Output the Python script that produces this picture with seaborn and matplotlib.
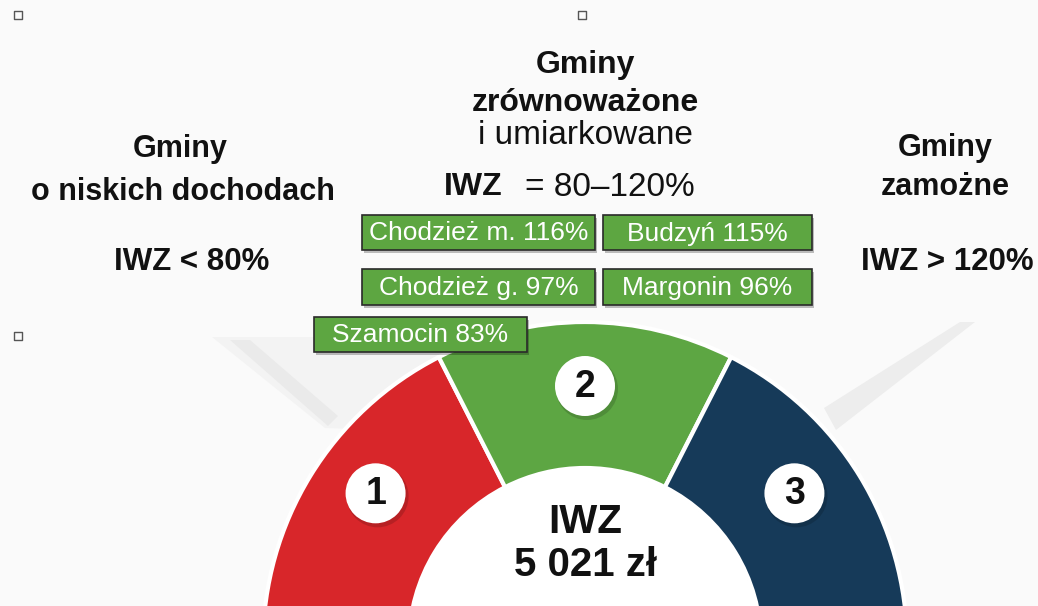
import numpy as np
import matplotlib.pyplot as plt
import seaborn as sns
from matplotlib.patches import Circle, Polygon, Rectangle

# Segmenty półkola (rozpiętość w stopniach, razem 180)
segmenty = ['1', '2', '3']
katy = [63, 54, 63]
kolory = ['#D8262A', '#5DA643', '#163A59']

# Gminy w grupie 2 i ich IWZ w %
gminy = ['Chodzież m.', 'Budzyń', 'Chodzież g.', 'Margonin', 'Szamocin']
iwz_gmin = [116, 115, 97, 96, 83]

iwz_srodek = '5 021 zł'

sns.set_theme(style='white')
plt.rcParams['font.family'] = ['Liberation Sans', 'DejaVu Sans']

tlo = '#FAFAFA'
fig = plt.figure(figsize=(10.38, 6.06), dpi=100)
fig.patch.set_facecolor(tlo)
ax = fig.add_axes([0, 0, 1, 1])
ax.set_facecolor(tlo)

# delikatne "promienie" w tle
ax.add_patch(Polygon([(212, 337), (445, 337), (445, 432), (325, 428)],
                     closed=True, facecolor='#F3F3F3', edgecolor='none', zorder=0))
ax.add_patch(Polygon([(230, 340), (250, 340), (338, 416), (328, 426)],
                     closed=True, facecolor='#EAEAEA', edgecolor='none', zorder=0))
ax.add_patch(Polygon([(836, 430), (824, 408), (960, 322), (975, 322)],
                     closed=True, facecolor='#EDEDED', edgecolor='none', zorder=0))

# półkole (donut) z pie
cx, cy, R, szer = 585, 644, 322, 146
wedges, _ = ax.pie(np.array(katy) / 360, colors=kolory, normalize=False,
                   startangle=180, counterclock=True, center=(cx, cy), radius=R,
                   wedgeprops=dict(width=szer, edgecolor='white', linewidth=3))
for w in wedges:
    w.set_zorder(2)
ax.add_patch(Circle((cx, cy), R - szer - 1, facecolor='white', edgecolor='none', zorder=2))

ax.set_xlim(0, 1038)
ax.set_ylim(606, 0)
ax.set_aspect('equal')
ax.axis('off')

# numery segmentów w białych kółkach
rl = 258
clip = np.degrees(np.arcsin((cy - 606) / rl))
for w, nr in zip(wedges, segmenty):
    lo, hi = 360 - w.theta2, 360 - w.theta1
    lo, hi = max(lo, clip), min(hi, 180 - clip)
    a = np.radians((lo + hi) / 2)
    x, y = cx + rl * np.cos(a), cy - rl * np.sin(a)
    ax.add_patch(Circle((x + 2, y + 3), 31, facecolor='black', alpha=0.15, edgecolor='none', zorder=3))
    ax.add_patch(Circle((x, y), 30, facecolor='white', edgecolor='none', zorder=4))
    ax.text(x, y + 1, nr, ha='center', va='center', fontsize=27, fontweight='bold', color='#111111', zorder=5)

# środek
ax.text(cx, 522, 'IWZ', ha='center', va='center', fontsize=29, fontweight='bold', color='#111111', zorder=5)
ax.text(cx, 565, iwz_srodek, ha='center', va='center', fontsize=29, fontweight='bold', color='#111111', zorder=5)

# zielone etykiety gmin
ramki = [(362, 215, 233, 35), (603, 215, 209, 35), (362, 269, 233, 36),
         (603, 269, 209, 36), (314, 317, 213, 35)]
for (x0, y0, bw, bh), g, v in zip(ramki, gminy, iwz_gmin):
    ax.add_patch(Rectangle((x0 + 2, y0 + 3), bw, bh, facecolor='black', alpha=0.25, edgecolor='none', zorder=6))
    ax.add_patch(Rectangle((x0, y0), bw, bh, facecolor='#5DA641', edgecolor='#2A2A2A', linewidth=1.2, zorder=7))
    ax.text(x0 + bw / 2, y0 + bh / 2 + 1, f'{g} {v}%', ha='center', va='center',
            fontsize=19, color='white', zorder=8)

# nagłówki
k = '#111111'
ax.text(585, 65, 'Gminy', ha='center', va='center', fontsize=23, fontweight='bold', color=k)
ax.text(585, 103, 'zrównoważone', ha='center', va='center', fontsize=23, fontweight='bold', color=k)
ax.text(585, 136, 'i umiarkowane', ha='center', va='center', fontsize=24, color=k)
ax.text(473, 187, 'IWZ', ha='center', va='center', fontsize=23, fontweight='bold', color=k)
ax.text(610, 187, '= 80–120%', ha='center', va='center', fontsize=24, color=k)

ax.text(180, 149, 'Gminy', ha='center', va='center', fontsize=22, fontweight='bold', color=k)
ax.text(183, 192, 'o niskich dochodach', ha='center', va='center', fontsize=22, fontweight='bold', color=k)
ax.text(192, 262, 'IWZ < 80%', ha='center', va='center', fontsize=22.5, fontweight='bold', color=k)

ax.text(945, 148, 'Gminy', ha='center', va='center', fontsize=22, fontweight='bold', color=k)
ax.text(945, 187, 'zamożne', ha='center', va='center', fontsize=22, fontweight='bold', color=k)
ax.text(947, 262, 'IWZ > 120%', ha='center', va='center', fontsize=22.5, fontweight='bold', color=k)

# drobne kwadraciki z oryginału
ax.scatter([18, 582, 18], [15, 15, 336], marker='s', s=40, facecolors='none',
           edgecolors='#555555', linewidths=1, zorder=9)

fig.savefig('out.png', dpi=100, facecolor=tlo)
